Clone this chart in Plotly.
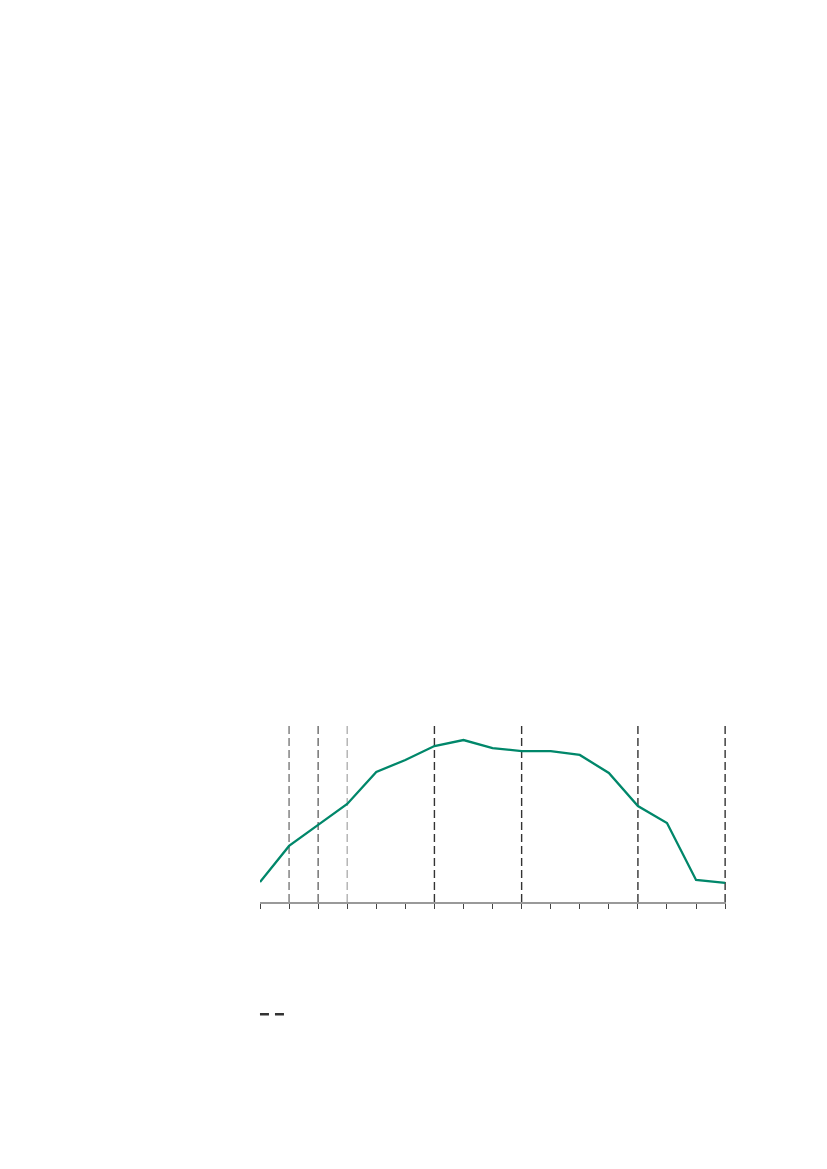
import plotly.graph_objects as go

x_vals = list(range(17))
y_vals = [11.2, 31.5, 43.3, 55.1, 73.0, 79.8, 87.6, 91.0, 86.5, 84.8, 84.8, 82.6, 72.5, 53.9, 44.4, 12.4, 10.7]

vline_x = [1, 2, 3, 6, 9, 13, 16]
vline_colors = ["#7a7a7a", "#6a6a6a", "#b0b0b0", "#333333", "#333333", "#333333", "#333333"]

fig = go.Figure()
fig.add_trace(go.Scatter(x=x_vals, y=y_vals, mode="lines",
                         line=dict(color="#00876a", width=2.3), showlegend=False))

for xv, c in zip(vline_x, vline_colors):
    fig.add_shape(type="line", xref="x", yref="paper", x0=xv, x1=xv, y0=0, y1=1,
                  line=dict(color=c, width=1.4, dash="8px,4px"), layer="below")

fig.add_trace(go.Scatter(x=[None], y=[None], mode="lines", name="",
                         line=dict(color="#333333", width=2.5, dash="9px,6px"),
                         showlegend=True))

fig.update_layout(
    width=827, height=1169,
    margin=dict(l=252, r=109, t=716, b=275),
    paper_bgcolor="white", plot_bgcolor="white",
    showlegend=True,
    legend=dict(x=-0.0108, y=-0.63, xanchor="left", yanchor="middle",
                orientation="h", bgcolor="rgba(0,0,0,0)", itemwidth=30,
                font=dict(size=10)),
    xaxis=dict(range=[0, 16.03], showgrid=False, zeroline=False,
               showline=True, linecolor="#999999", linewidth=1.5,
               ticks="outside", ticklen=5, tickcolor="#444444", tickwidth=1,
               tick0=0, dtick=1, showticklabels=False),
    yaxis=dict(range=[0, 100], showgrid=False, zeroline=False,
               showline=False, showticklabels=False, ticks=""),
)

fig.write_html("out.html")
